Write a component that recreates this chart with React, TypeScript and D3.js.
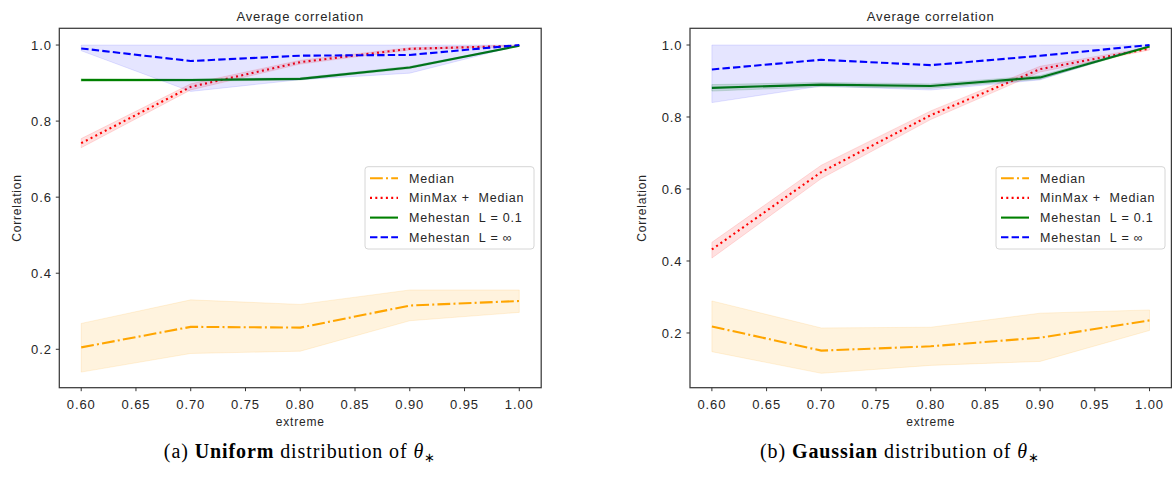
import React from "react";
import * as d3 from "d3";

// x positions of the "extreme" parameter
const extremes = [0.6, 0.7, 0.8, 0.9, 1.0];
const xTickValues = [0.6, 0.65, 0.7, 0.75, 0.8, 0.85, 0.9, 0.95, 1.0];
const yTickValues = [0.2, 0.4, 0.6, 0.8, 1.0];

const seriesNames = ["Median", "MinMax +  Median", "Mehestan  L = 0.1", "Mehestan  L = \u221E"];

// Uniform distribution of theta
const uniMedian = [0.205, 0.259, 0.257, 0.315, 0.327];
const uniMedianLo = [0.14, 0.189, 0.195, 0.275, 0.297];
const uniMedianHi = [0.268, 0.33, 0.318, 0.356, 0.356];
const uniMinMax = [0.742, 0.89, 0.955, 0.99, 0.998];
const uniMinMaxLo = [0.73, 0.882, 0.95, 0.987, 0.996];
const uniMinMaxHi = [0.754, 0.898, 0.96, 0.993, 1.0];
const uniMeh01 = [0.908, 0.908, 0.911, 0.941, 0.998];
const uniMeh01Lo = [0.904, 0.905, 0.908, 0.938, 0.997];
const uniMeh01Hi = [0.912, 0.911, 0.914, 0.944, 0.999];
const uniMehInf = [0.991, 0.958, 0.972, 0.974, 1.0];
const uniMehInfLo = [0.985, 0.878, 0.909, 0.926, 0.999];
const uniMehInfHi = [1.0, 1.0, 1.0, 1.0, 1.0];

// Gaussian distribution of theta
const gauMedian = [0.218, 0.151, 0.163, 0.187, 0.235];
const gauMedianLo = [0.148, 0.088, 0.11, 0.121, 0.207];
const gauMedianHi = [0.289, 0.214, 0.216, 0.255, 0.264];
const gauMinMax = [0.432, 0.647, 0.805, 0.933, 0.99];
const gauMinMaxLo = [0.408, 0.629, 0.793, 0.925, 0.986];
const gauMinMaxHi = [0.452, 0.666, 0.817, 0.941, 0.994];
const gauMeh01 = [0.881, 0.89, 0.886, 0.91, 0.996];
const gauMeh01Lo = [0.872, 0.884, 0.88, 0.905, 0.994];
const gauMeh01Hi = [0.89, 0.896, 0.892, 0.915, 0.998];
const gauMehInf = [0.932, 0.959, 0.944, 0.97, 1.0];
const gauMehInfLo = [0.84, 0.886, 0.875, 0.903, 0.999];
const gauMehInfHi = [1.0, 1.0, 1.0, 1.0, 1.0];

const styles = [
  { color: "#FFA500", dash: "12.8,3.2,2,3.2", fillOpacity: 0.13 },
  { color: "#FF0000", dash: "2,3.3", fillOpacity: 0.12 },
  { color: "#008000", dash: "none", fillOpacity: 0.15 },
  { color: "#0000FF", dash: "7.4,3.2", fillOpacity: 0.1 },
];

const SANS = "'Liberation Sans', Arial, Helvetica, sans-serif";
const SERIF = "'Liberation Serif', 'Times New Roman', serif";
const INK = "#262626";

type Series = { mean: number[]; lo: number[]; hi: number[] };

type PanelProps = {
  left: number;
  right: number;
  top: number;
  bottom: number;
  yDomain: [number, number];
  series: Series[];
  yLabelX: number;
  legendLeft: number;
};

function Panel({ left, right, top, bottom, yDomain, series, yLabelX, legendLeft }: PanelProps) {
  const x = d3.scaleLinear().domain([0.58, 1.02]).range([left, right]);
  const y = d3.scaleLinear().domain(yDomain).range([bottom, top]);
  const cx = (left + right) / 2;
  const cy = (top + bottom) / 2;

  const legendTop = 166.7;
  const legendRows = [178.3, 197.9, 217.6, 237.3];

  return (
    <g>
      {series.map((s, i) => {
        const st = styles[i];
        const pts = extremes.map((e, k) => ({ e, m: s.mean[k], lo: s.lo[k], hi: s.hi[k] }));
        const area = d3
          .area<any>()
          .x((d) => x(d.e))
          .y0((d) => y(d.lo))
          .y1((d) => y(d.hi));
        const line = d3
          .line<any>()
          .x((d) => x(d.e))
          .y((d) => y(d.m));
        return (
          <g key={i}>
            <path
              d={area(pts) || ""}
              fill={st.color}
              fillOpacity={st.fillOpacity}
              stroke={st.color}
              strokeOpacity={st.fillOpacity}
              strokeWidth={1}
            />
            <path
              d={line(pts) || ""}
              fill="none"
              stroke={st.color}
              strokeWidth={2.1}
              strokeDasharray={st.dash}
              strokeLinejoin="round"
            />
          </g>
        );
      })}

      {/* frame */}
      <rect
        x={left}
        y={top}
        width={right - left}
        height={bottom - top}
        fill="none"
        stroke="#3a3a3a"
        strokeWidth={1.25}
      />

      {/* x axis */}
      {xTickValues.map((t) => (
        <g key={"x" + t}>
          <line x1={x(t)} x2={x(t)} y1={bottom} y2={bottom + 3.5} stroke="#333" strokeWidth={1} />
          <text
            x={x(t)}
            y={408.6}
            textAnchor="middle"
            fontFamily={SANS}
            fontSize={13}
            letterSpacing={0.9}
            fill={INK}
          >
            {d3.format(".2f")(t)}
          </text>
        </g>
      ))}

      {/* y axis */}
      {yTickValues.map((t) => (
        <g key={"y" + t}>
          <line x1={left - 3.5} x2={left} y1={y(t)} y2={y(t)} stroke="#333" strokeWidth={1} />
          <text
            x={left - 7.5}
            y={y(t) + 4.7}
            textAnchor="end"
            fontFamily={SANS}
            fontSize={13}
            letterSpacing={0.9}
            fill={INK}
          >
            {d3.format(".1f")(t)}
          </text>
        </g>
      ))}

      <text x={cx} y={20.5} textAnchor="middle" fontFamily={SANS} fontSize={13} letterSpacing={0.8} fill={INK}>
        Average correlation
      </text>
      <text x={cx} y={425.5} textAnchor="middle" fontFamily={SANS} fontSize={12} letterSpacing={0.8} fill={INK}>
        extreme
      </text>
      <text
        transform={`translate(${yLabelX},${cy}) rotate(-90)`}
        textAnchor="middle"
        fontFamily={SANS}
        fontSize={12}
        letterSpacing={0.8}
        fill={INK}
      >
        Correlation
      </text>

      {/* legend */}
      <rect
        x={legendLeft}
        y={legendTop}
        width={169}
        height={82.3}
        rx={3}
        fill="#fff"
        fillOpacity={0.8}
        stroke="#d6d6d6"
        strokeWidth={1}
      />
      {seriesNames.map((name, i) => (
        <g key={name}>
          <line
            x1={legendLeft + 5}
            x2={legendLeft + 33}
            y1={legendRows[i]}
            y2={legendRows[i]}
            stroke={styles[i].color}
            strokeWidth={2.1}
            strokeDasharray={styles[i].dash}
          />
          <text
            x={legendLeft + 44}
            y={legendRows[i] + 4.5}
            fontFamily={SANS}
            fontSize={12.5}
            letterSpacing={0.8}
            fill={INK}
            style={{ whiteSpace: "pre" }}
          >
            {name}
          </text>
        </g>
      ))}
    </g>
  );
}

function Caption({ cx, tag, word }: { cx: number; tag: string; word: string }) {
  return (
    <text
      x={cx}
      y={458}
      textAnchor="middle"
      fontFamily={SERIF}
      fontSize={20}
      letterSpacing={0.9}
      fill="#000"
      style={{ whiteSpace: "pre" }}
    >
      {`(${tag}) `}
      <tspan fontWeight="bold">{word}</tspan>
      {" distribution of "}
      <tspan fontStyle="italic">{"\u03B8"}</tspan>
      <tspan fontSize={13} dy={4}>
        {"\u2217"}
      </tspan>
    </text>
  );
}

export default function App() {
  const uniform: Series[] = [
    { mean: uniMedian, lo: uniMedianLo, hi: uniMedianHi },
    { mean: uniMinMax, lo: uniMinMaxLo, hi: uniMinMaxHi },
    { mean: uniMeh01, lo: uniMeh01Lo, hi: uniMeh01Hi },
    { mean: uniMehInf, lo: uniMehInfLo, hi: uniMehInfHi },
  ];
  const gaussian: Series[] = [
    { mean: gauMedian, lo: gauMedianLo, hi: gauMedianHi },
    { mean: gauMinMax, lo: gauMinMaxLo, hi: gauMinMaxHi },
    { mean: gauMeh01, lo: gauMeh01Lo, hi: gauMeh01Hi },
    { mean: gauMehInf, lo: gauMehInfLo, hi: gauMehInfHi },
  ];
  return (
    <svg
      width={1172}
      height={480}
      style={{ position: "absolute", left: 0, top: 0, background: "#fff" }}
    >
      <rect width={1172} height={480} fill="#fff" />
      <Panel
        left={59.3}
        right={541.2}
        top={28.3}
        bottom={387.7}
        yDomain={[0.099, 1.044]}
        series={uniform}
        yLabelX={20.5}
        legendLeft={365}
      />
      <Panel
        left={690}
        right={1171.4}
        top={28.3}
        bottom={387.7}
        yDomain={[0.048, 1.0464]}
        series={gaussian}
        yLabelX={646}
        legendLeft={996}
      />
      <Caption cx={300} tag="a" word="Uniform" />
      <Caption cx={900} tag="b" word="Gaussian" />
    </svg>
  );
}
